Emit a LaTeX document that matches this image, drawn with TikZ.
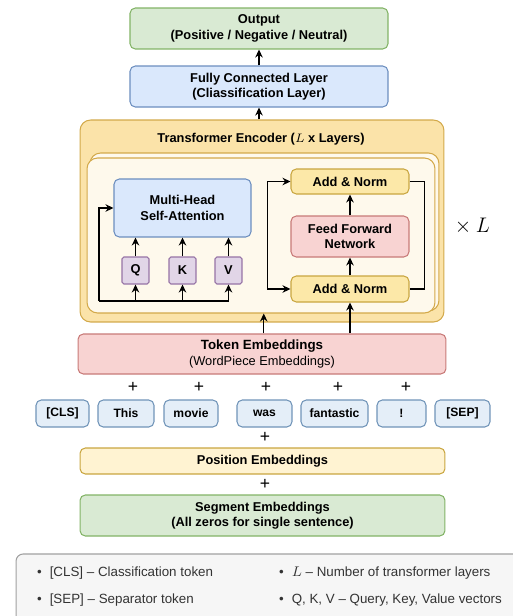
\documentclass[tikz,border=0pt]{standalone}
\usepackage{fontspec}
\setmainfont{Liberation Sans}
\usetikzlibrary{arrows.meta, positioning}

\definecolor{grnF}{HTML}{D9EAD3}
\definecolor{grnD}{HTML}{82B366}
\definecolor{bluF}{HTML}{DAE8FC}
\definecolor{bluD}{HTML}{6C8EBF}
\definecolor{encF}{HTML}{FBE3A9}
\definecolor{encD}{HTML}{D3A94A}
\definecolor{innF}{HTML}{FEF9EC}
\definecolor{ylwF}{HTML}{FCE8A8}
\definecolor{ylwD}{HTML}{C9A640}
\definecolor{posF}{HTML}{FFF3D2}
\definecolor{redF}{HTML}{F8D3D2}
\definecolor{redD}{HTML}{C87A78}
\definecolor{purF}{HTML}{E1D5E7}
\definecolor{purD}{HTML}{9673A6}
\definecolor{tokF}{HTML}{E4EEF8}
\definecolor{tokD}{HTML}{7094B8}
\definecolor{legF}{HTML}{F6F6F6}
\definecolor{legD}{HTML}{A0A0A0}

\begin{document}
\begin{tikzpicture}[
  x=0.02cm, y=-0.02cm,
  every node/.style={font=\fontsize{7.3}{8.8}\selectfont},
  box/.style={rectangle, draw, rounded corners=3pt, align=center, inner sep=0pt, line width=0.6pt, font=\fontsize{7.3}{8.8}\selectfont\bfseries},
  greenbox/.style={box, fill=grnF, draw=grnD},
  bluebox/.style={box, fill=bluF, draw=bluD},
  yellowbox/.style={box, fill=ylwF, draw=ylwD},
  redbox/.style={box, fill=redF, draw=redD},
  qkv/.style={box, rounded corners=1pt, fill=purF, draw=purD, minimum width=0.54cm, minimum height=0.54cm},
  token/.style={box, fill=tokF, draw=tokD, minimum height=0.54cm, font=\fontsize{6.9}{8}\selectfont\bfseries},
  plus/.style={font=\fontsize{10}{11}\selectfont},
  arrow/.style={-{Stealth[length=1.6mm, width=1.5mm]}, line width=0.8pt},
  twoway/.style={{Stealth[length=1.6mm, width=1.5mm]}-{Stealth[length=1.6mm, width=1.5mm]}, line width=0.8pt},
  line/.style={line width=0.8pt}
]
\useasboundingbox (0,0) rectangle (513,616);
\clip (0,0) rectangle (513,616);

% Output and classifier
\node[greenbox, minimum width=5.16cm, minimum height=0.82cm] (out) at (259,28.5)
  {Output\\(Positive / Negative / Neutral)};
\node[bluebox, minimum width=5.16cm, minimum height=0.82cm] (fc) at (259,86.5)
  {Fully Connected Layer\\(Cliassification Layer)};

% Encoder
\node[box, rounded corners=6pt, fill=encF, draw=encD, minimum width=7.28cm, minimum height=4.04cm] (enc) at (262,221) {};
\node[font=\fontsize{7.3}{8.8}\selectfont\bfseries] (enctitle) at (261,139) {Transformer Encoder ($L$ x Layers)};
\node[box, rounded corners=6pt, fill=innF, draw=encD, minimum width=6.98cm, minimum height=3.16cm] (back) at (264.5,232) {};
\node[box, rounded corners=6pt, fill=innF, draw=encD, minimum width=6.96cm, minimum height=3.1cm] (inner) at (261,235.5) {};

% Attention block
\node[bluebox, minimum width=2.74cm, minimum height=1.16cm] (mha) at (182.5,208) {Multi-Head\\Self-Attention};
\node[qkv] (q) at (135.5,270.5) {Q};
\node[qkv] (k) at (182.5,270.5) {K};
\node[qkv] (v) at (228.5,270.5) {V};
\coordinate (bl) at (99,301);

% Feed forward block
\node[yellowbox, minimum width=2.36cm, minimum height=0.5cm] (an2) at (350,181.5) {Add \& Norm};
\node[redbox, minimum width=2.36cm, minimum height=0.82cm] (ffn) at (350,236.5) {Feed Forward\\Network};
\node[yellowbox, minimum width=2.36cm, minimum height=0.52cm] (an1) at (350,289) {Add \& Norm};

\node[font=\fontsize{12.5}{14}\selectfont] (times) at (470,226) {${}\times L$};

% Embeddings
\node[redbox, minimum width=7.36cm, minimum height=0.8cm, font=\fontsize{7.3}{9.2}\selectfont] (tok) at (262,354)
  {{\fontsize{7.6}{9.2}\selectfont\bfseries Token Embeddings}\\(WordPiece Embeddings)};

\node[token, minimum width=1.06cm] (cls) at (62.5,413.5) {[CLS]};
\node[token, minimum width=1.12cm] (this) at (126,413.5) {This};
\node[token, minimum width=1.08cm] (movie) at (191,413.5) {movie};
\node[token, minimum width=1.1cm] (was) at (264.5,413.5) {was};
\node[token, minimum width=1.34cm] (fant) at (334.5,413.5) {fantastic};
\node[token, minimum width=0.98cm] (excl) at (401.5,413.5) {!};
\node[token, minimum width=1.1cm] (sep) at (462.5,413.5) {[SEP]};

\node[plus] (p1) at (133,387) {+};
\node[plus] (p2) at (199,387) {+};
\node[plus] (p3) at (266,387) {+};
\node[plus] (p4) at (338,387) {+};
\node[plus] (p5) at (406,387) {+};

\node[plus] (p6) at (265,437) {+};
\node[box, fill=posF, draw=ylwD, minimum width=7.3cm, minimum height=0.52cm] (pos) at (262.5,461) {Position Embeddings};
\node[plus] (p7) at (265,484) {+};
\node[greenbox, minimum width=7.3cm, minimum height=0.82cm] (seg) at (262.5,515.5)
  {Segment Embeddings\\(All zeros for single sentence)};

% Legend
\node[box, rounded corners=4pt, fill=legF, draw=legD, minimum width=10.4cm, minimum height=1.88cm] (legend) at (276,601) {};
\node[anchor=west, font=\fontsize{7.6}{9}\selectfont, text=black!80] (lg1) at (31,573) {\textbullet\hspace{4.5pt}[CLS] -- Classification token};
\node[anchor=west, font=\fontsize{7.6}{9}\selectfont, text=black!80] (lg2) at (31,600) {\textbullet\hspace{4.5pt}[SEP] -- Separator token};
\node[anchor=west, font=\fontsize{7.6}{9}\selectfont, text=black!80] (lg3) at (273,573) {\textbullet\hspace{4.5pt}$L$ -- Number of transformer layers};
\node[anchor=west, font=\fontsize{7.6}{9}\selectfont, text=black!80] (lg4) at (273,600) {\textbullet\hspace{4.5pt}Q, K, V -- Query, Key, Value vectors};

% Arrows
\draw[arrow] (fc) -- (out);
\draw[arrow] (enc.north -| fc) -- (fc);
\draw[arrow] (q) -- (q |- mha.south);
\draw[arrow] (k) -- (k |- mha.south);
\draw[arrow] (v) -- (v |- mha.south);
\draw[line] (bl) -- (bl -| v);
\draw[arrow] (bl) |- (mha.west);
\draw[arrow] (bl -| q) -- (q);
\draw[arrow] (bl -| k) -- (k);
\draw[arrow] (bl -| v) -- (v);
\draw[twoway] (an2.west) -- ++(-23,0) |- (an1.west);
\draw[line] (an2.east) -- ++(15,0) |- (an1.east);
\draw[arrow] (an1) -- (ffn);
\draw[arrow] (ffn) -- (an2);
\draw[arrow] ([xshift=1pt]tok.north) -- ([xshift=1pt]tok.north |- inner.south);
\draw[arrow] (tok.north -| an1) -- (an1);

\end{tikzpicture}
\end{document}
